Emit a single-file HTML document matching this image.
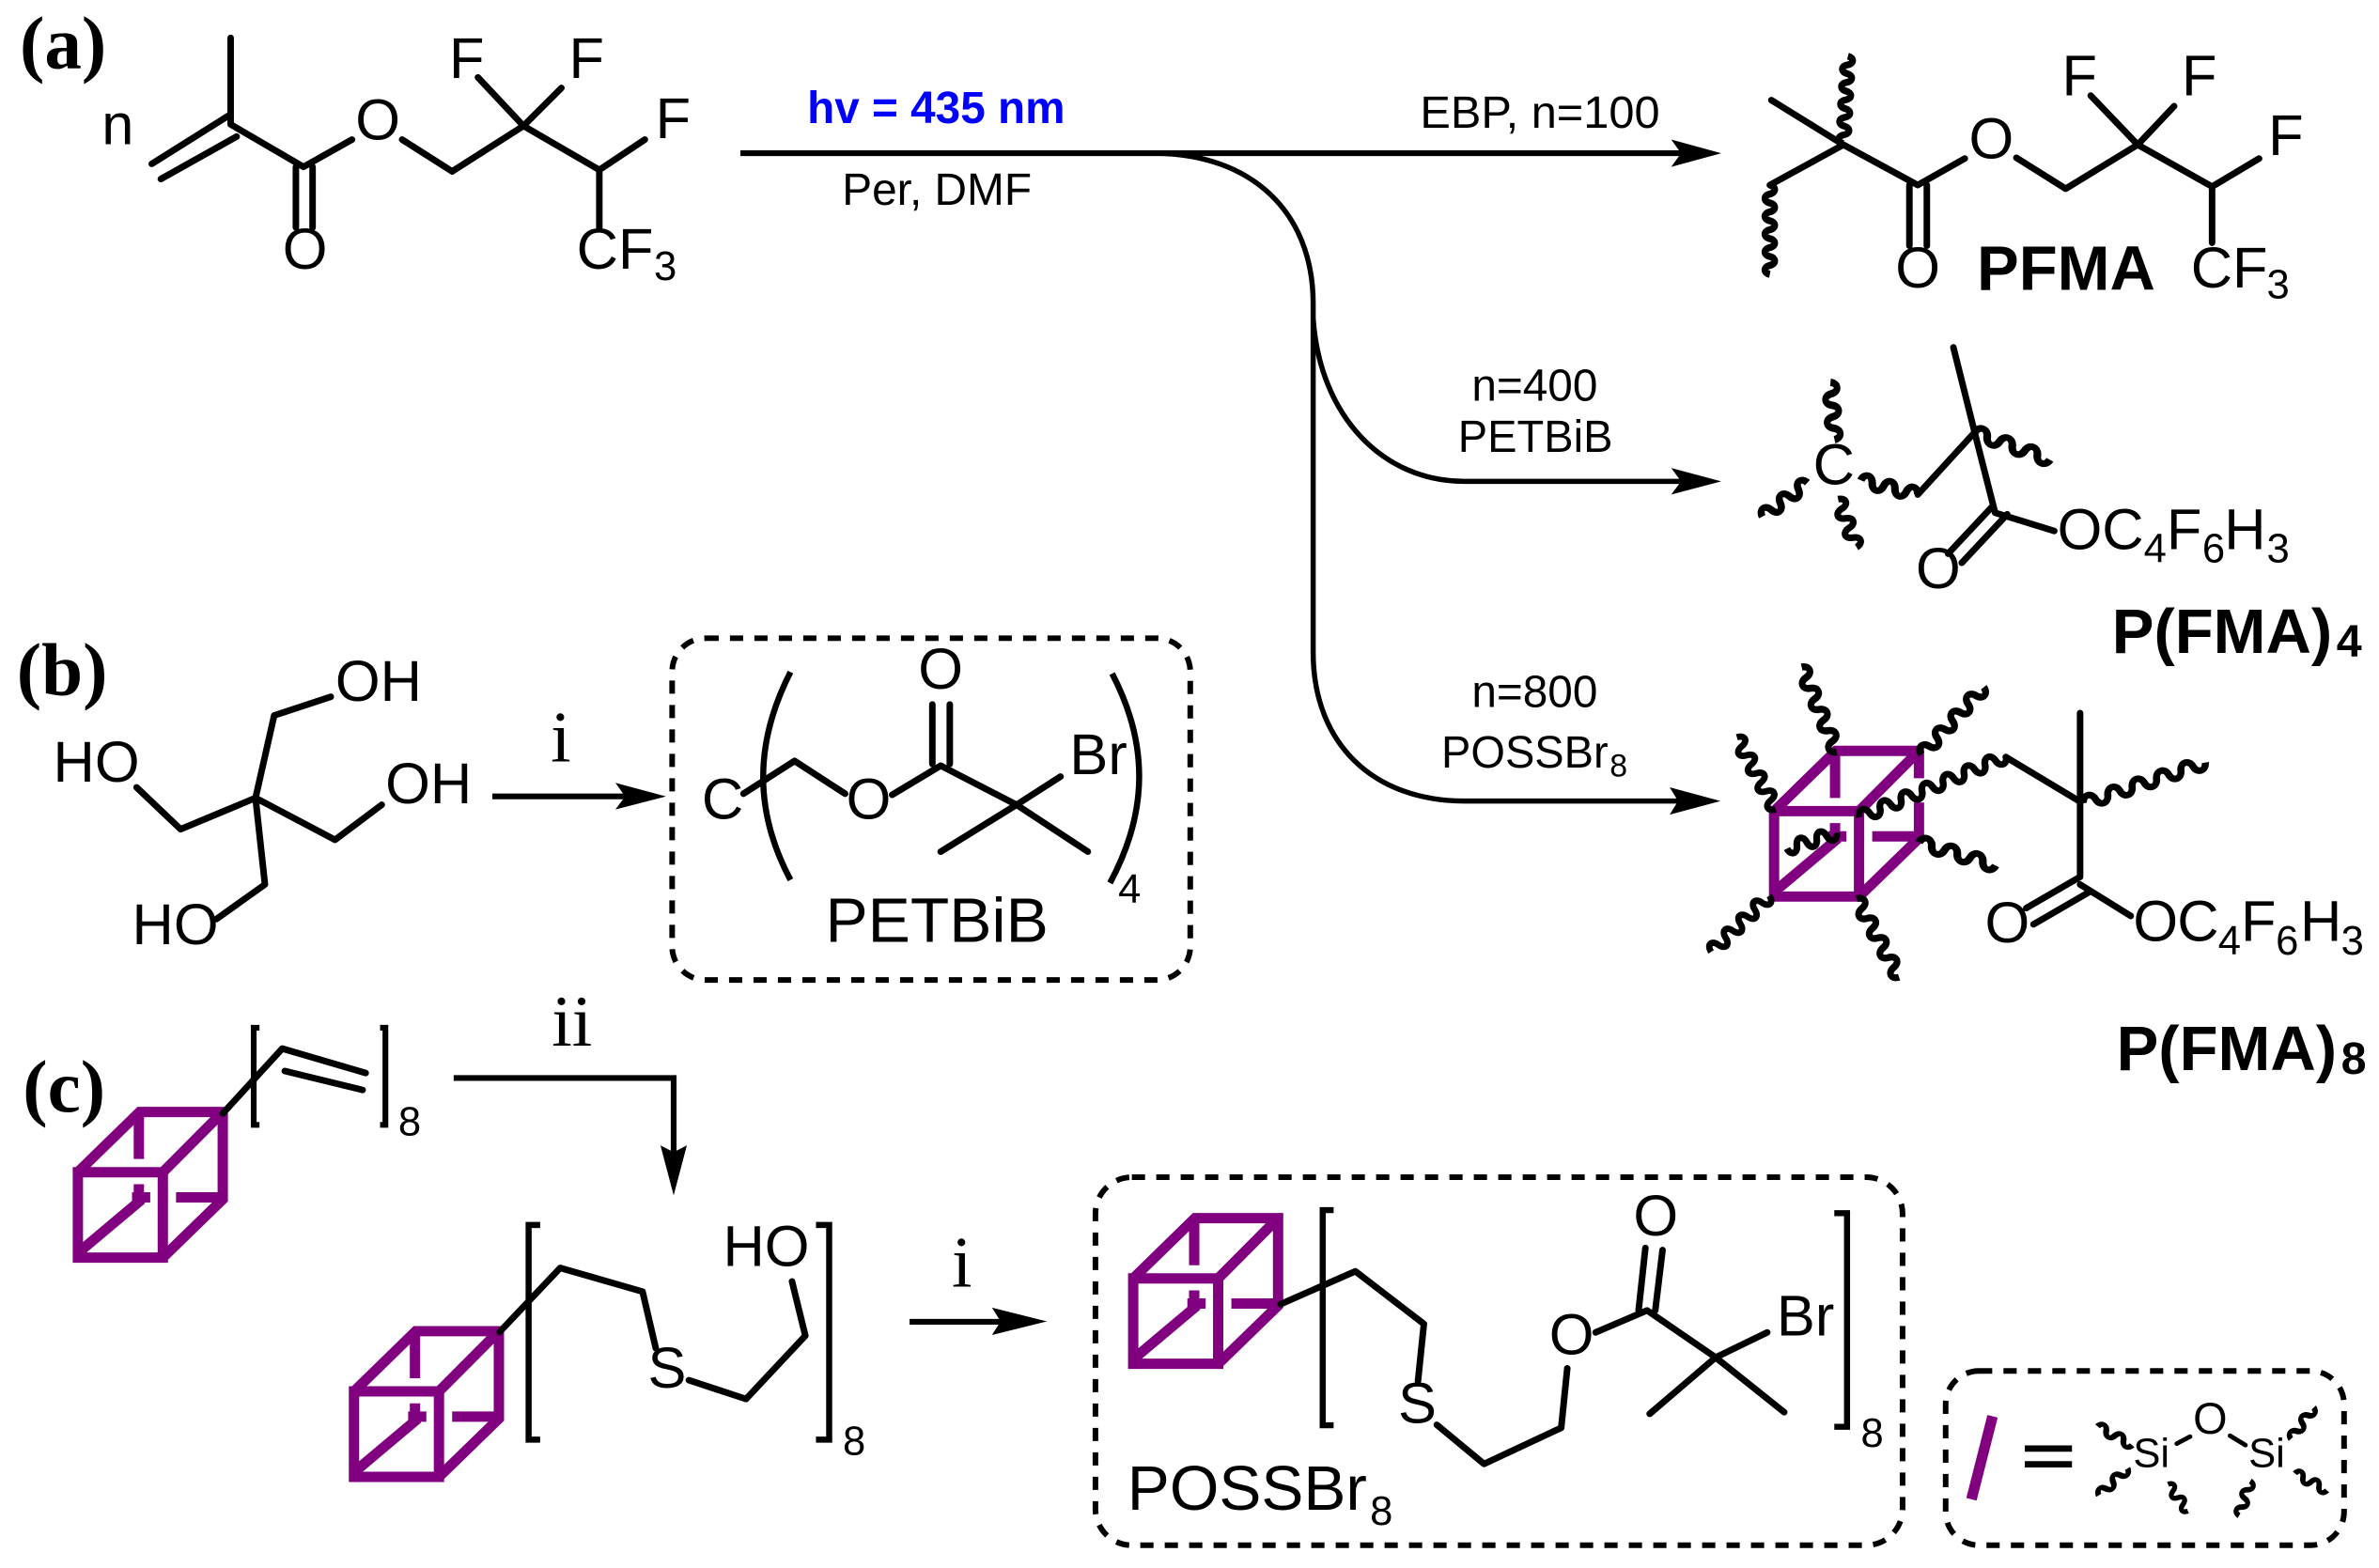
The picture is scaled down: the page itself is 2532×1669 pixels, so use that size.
<!DOCTYPE html>
<html><head><meta charset="utf-8"><title>Scheme</title>
<style>
html,body{margin:0;padding:0;background:#fff}
svg{display:block}
text{font-family:"Liberation Sans",sans-serif;font-size:38px;fill:#000}
.s{font-size:27px}
.c{font-size:30px}
.b{font-weight:bold;font-size:41.5px}
.p{font-size:41.5px}
.t{font-family:"Liberation Serif",serif;font-weight:bold;font-size:49px}
.r{font-family:"Liberation Serif",serif;font-size:48px}
.m{text-anchor:middle}
.bond{fill:none;stroke:#000;stroke-width:4.3;stroke-linejoin:round;stroke-linecap:round}
.ar{fill:none;stroke:#000;stroke-width:3.8}
.box{fill:none;stroke:#000;stroke-width:3.7;stroke-dasharray:8.7 7.4}
.w{fill:none;stroke:#000;stroke-width:4.3}
.ws{fill:none;stroke:#000;stroke-width:3.1}
</style></head><body>
<svg xmlns="http://www.w3.org/2000/svg" width="2532" height="1669" viewBox="0 0 1568 1033.6">
<defs>
<path id="wp" d="M0 0c1 -4.4 4.5 -4.4 5.5 0s4.5 4.4 5.5 0s4.5 -4.4 5.5 0s4.5 4.4 5.5 0s4.5 -4.4 5.5 0s4.5 4.4 5.5 0s4.5 -4.4 5.5 0s4.5 4.4 5.5 0s4.5 -4.4 5.5 0s4.5 4.4 5.5 0"/>
<path id="w6" d="M0 0c1 -5.5 5.6 -5.5 6.6 0s5.6 5.5 6.6 0s5.6 -5.5 6.6 0s5.6 5.5 6.6 0s5.6 -5.5 6.6 0"/>
<path id="w8" d="M0 0c1 -5.5 6.33 -5.5 7.33 0s6.33 5.5 7.33 0s6.33 -5.5 7.33 0s6.33 5.5 7.33 0s6.33 -5.5 7.33 0s6.33 5.5 7.33 0"/>
<path id="w10" d="M0 0c1 -5.5 5.875 -5.5 6.875 0s5.875 5.5 6.875 0s5.875 -5.5 6.875 0s5.875 5.5 6.875 0s5.875 -5.5 6.875 0s5.875 5.5 6.875 0s5.875 -5.5 6.875 0s5.875 5.5 6.875 0"/>
<path id="w14" d="M0 0c1 -5.5 6.7 -5.5 7.7 0s6.7 5.5 7.7 0s6.7 -5.5 7.7 0s6.7 5.5 7.7 0s6.7 -5.5 7.7 0s6.7 5.5 7.7 0s6.7 -5.5 7.7 0s6.7 5.5 7.7 0s6.7 -5.5 7.7 0s6.7 5.5 7.7 0"/>
<path id="w18" d="M0 0c1 -5.5 6.07 -5.5 7.07 0s6.07 5.5 7.07 0s6.07 -5.5 7.07 0s6.07 5.5 7.07 0s6.07 -5.5 7.07 0s6.07 5.5 7.07 0s6.07 -5.5 7.07 0s6.07 5.5 7.07 0s6.07 -5.5 7.07 0s6.07 5.5 7.07 0s6.07 -5.5 7.07 0s6.07 5.5 7.07 0s6.07 -5.5 7.07 0s6.07 5.5 7.07 0"/>
<path id="ws" d="M0 0c1 -4 4 -4 5 0s4 4 5 0s4 -4 5 0s4 4 5 0"/>
<g id="cube" fill="none" stroke="#800080" stroke-width="6.8" stroke-linejoin="miter">
<path d="M51.3 772.7H107.3V829H51.3Z"/>
<path d="M51.3 772.7L92 733H146.8V790.6L107.3 829"/>
<path d="M107.3 772.7L146.8 733"/>
<path d="M51.3 826L93.4 790.6"/>
<path d="M91.5 733V764M91.5 780.6V790"/>
<path d="M87 789.3H99M116 789.3H146.8"/>
</g>
</defs>

<!-- (a) monomer -->
<text class="t" x="13" y="45">(a)</text>
<text x="67" y="95">n</text>
<path class="bond" d="M152 25V82L200 110L232 92M265 92L298 113L345 83L395 112L425 92M345 83L315 51M345 83L370 58M395 112V150M151 76L100 108M156 90L106 118M195 110V150M206 110V150"/>
<text class="m" x="201" y="177">O</text>
<text class="m" x="249" y="92">O</text>
<text x="296" y="51.3">F</text>
<text x="375" y="51.3">F</text>
<text x="432" y="91">F</text>
<text x="380" y="177">CF</text>
<text class="s" x="431" y="184.5">3</text>

<text x="532" y="81" style="font-weight:bold;font-size:30px;fill:#0000ff" textLength="170" lengthAdjust="spacingAndGlyphs">hv = 435 nm</text>
<text class="c" x="555" y="135" textLength="125" lengthAdjust="spacingAndGlyphs">Per, DMF</text>
<text class="c" x="936" y="84.3" textLength="158" lengthAdjust="spacingAndGlyphs">EBP, n=100</text>
<text class="c" x="970" y="264" textLength="83" lengthAdjust="spacingAndGlyphs">n=400</text>
<text class="c" x="961" y="298" textLength="102" lengthAdjust="spacingAndGlyphs">PETBiB</text>
<text class="c" x="970" y="466" textLength="83" lengthAdjust="spacingAndGlyphs">n=800</text>
<text class="c" x="950" y="506" textLength="110" lengthAdjust="spacingAndGlyphs">POSSBr</text>
<text x="1061" y="512" style="font-size:21px">8</text>

<!-- main arrows -->
<path class="ar" d="M488 101H1110"/>
<path fill="none" stroke="#000" stroke-width="3.4" d="M760 101C825 101 865.5 140 865.5 200V430C865.5 490 905 528 965 528H1110"/>
<path fill="none" stroke="#000" stroke-width="3.4" d="M865.5 210C870 275 912 317.3 965 317.3H1110"/>
<polygon points="1134.5,101 1101.5,92 1108,101 1101.5,110"/>
<polygon points="1134.5,317.3 1101.5,308.5 1108,317.3 1101.5,326"/>
<polygon points="1134,528 1100.5,519 1106,528 1100.5,537"/>

<!-- PFMA -->
<path class="bond" d="M1167.5 66L1215 95.4L1166.5 122M1215 95.4L1264 122L1295 104.5M1329 104L1361.5 124.4L1409 95.4L1458 123L1489 104.5M1409 95.4L1378 63M1409 95.4L1433 70M1458 123V160M1258.5 122V162M1270 122V162"/>
<use href="#wp" class="w" transform="translate(1218 37) rotate(93) scale(1.05 1)"/>
<use href="#wp" class="w" transform="translate(1166.5 122) rotate(90) scale(1.07 1)"/>
<text class="m" x="1264" y="189.4">O</text>
<text class="m" x="1312.5" y="104.2">O</text>
<text x="1359" y="63">F</text>
<text x="1438" y="63">F</text>
<text x="1495" y="102.3">F</text>
<text x="1444" y="189.4">CF</text>
<text class="s" x="1494" y="196.5">3</text>
<text class="b" x="1303" y="191">PFMA</text>

<!-- P(FMA)4 -->
<path class="bond" d="M1287.5 229L1301.5 285L1315 338L1354 350M1301.5 285L1264 326M1313 334L1284 365M1323 339L1293 371"/>
<use href="#w8" class="w" transform="translate(1301.5 285) rotate(20) scale(1.2 1)"/>
<use href="#w6" class="w" transform="translate(1226.5 316.6) rotate(14) scale(1.17 1)"/>
<use href="#w6" class="w" transform="translate(1206.5 252) rotate(86) scale(1.15 1)"/>
<use href="#w6" class="w" transform="translate(1161.5 340.6) rotate(-37) scale(1.13 1)"/>
<use href="#w6" class="w" transform="translate(1211.5 329) rotate(69) scale(1.03 1)"/>
<text x="1195" y="319.4">C</text>
<text class="m" x="1277.5" y="387.7">O</text>
<text x="1356" y="362">O</text>
<text x="1385.5" y="362">C</text>
<text class="s" x="1413" y="370.5">4</text>
<text x="1428" y="362">F</text>
<text class="s" x="1451.5" y="370.5">6</text>
<text x="1466" y="362">H</text>
<text class="s" x="1494" y="370.5">3</text>
<text class="b" x="1392" y="430.5">P(FMA)</text>
<text x="1540" y="433" style="font-weight:bold;font-size:30px">4</text>

<!-- P(FMA)8 -->
<use href="#cube" transform="translate(1118 -238)"/>
<rect x="1261" y="513" width="8" height="16" fill="#fff"/>
<path class="bond" d="M1322 499L1371 528.4M1371 470V578L1335.5 598.6M1376.5 588.3L1340.3 609.3M1371 583L1404.4 603.8"/>
<use href="#w10" class="w" transform="translate(1187.5 439.7) rotate(67.6) scale(1.1 1)"/>
<use href="#w10" class="w" transform="translate(1144.8 486) rotate(61.7) scale(.98 1)"/>
<use href="#w10" class="w" transform="translate(1307.5 453) rotate(132.7) scale(1.1 1)"/>
<use href="#w18" class="w" transform="translate(1322.2 498.5) rotate(157.4) scale(1.06 1)"/>
<use href="#w6" class="w" transform="translate(1210.5 549) rotate(162.4) scale(1.04 1)"/>
<use href="#w8" class="w" transform="translate(1264.8 555.3) rotate(16.8) scale(1.2 1)"/>
<use href="#w10" class="w" transform="translate(1166.2 590.4) rotate(136) scale(.97 1)"/>
<use href="#w10" class="w" transform="translate(1223.7 592.4) rotate(61.6) scale(1.07 1)"/>
<use href="#w14" class="w" transform="translate(1373.2 529.5) rotate(-18.5) scale(1.1 1)"/>
<text class="m" x="1323" y="621">O</text>
<text x="1406" y="620.3">O</text>
<text x="1435" y="620.3">C</text>
<text class="s" x="1462" y="629.2">4</text>
<text x="1477" y="620.3">F</text>
<text class="s" x="1500" y="629.2">6</text>
<text x="1516" y="620.3">H</text>
<text class="s" x="1543" y="629.2">3</text>
<text class="b" x="1395" y="705.5">P(FMA)</text>
<text x="1543" y="708" style="font-weight:bold;font-size:30px">8</text>

<!-- (b) -->
<text class="t" x="11" y="458">(b)</text>
<path class="bond" d="M218 459.3L180.7 471.6L168.4 526L119 546.6L90 519M168.4 526L220.8 553.6L251.6 530.5M168.4 526L174.6 583L142.7 605.8"/>
<text x="221" y="462">OH</text>
<text x="35" y="515.4">HO</text>
<text x="254" y="529.6">OH</text>
<text x="87" y="622.3">HO</text>
<text class="r m" x="369.6" y="502">i</text>
<path class="ar" d="M324.5 525H415"/>
<polygon points="439,525 405.6,516 412,525 405.6,533.6"/>
<rect class="box" x="443" y="420.7" width="341.5" height="225.3" rx="22"/>
<text x="462.5" y="539.8">C</text>
<path class="bond" d="M490 523.2L523.7 501.6L557 523.2M588 523.9L620 504.7L670 530.5L699 511.9M670 530.5L620 561.4M670 530.5L717 561.4M614.5 464.4V503.6M626 464.4V503.6"/>
<path fill="none" stroke="#000" stroke-width="4" d="M521 443C497 490 497 535 521 580M733 444C757 490 757 535 731.6 582"/>
<text class="m" x="572.5" y="539.8">O</text>
<text class="m" x="620" y="454">O</text>
<text x="705" y="510.4">Br</text>
<text class="s" x="737" y="595">4</text>
<text class="p" x="544" y="620.9" textLength="147" lengthAdjust="spacingAndGlyphs">PETBiB</text>

<!-- (c) -->
<text class="t" x="15" y="733">(c)</text>
<use href="#cube"/>
<path class="bond" d="M146.8 734L186 691.2L241 707.3M187.7 706L239 718.5"/>
<path fill="none" stroke="#000" stroke-width="3.8" d="M171 677.5H167.2V741.5H171M250.5 677.5H254V741.5H250.5"/>
<text class="s" x="262.5" y="748.3">8</text>
<text class="r m" x="377" y="689.2">ii</text>
<path class="ar" d="M299 710.6H444V762"/>
<polygon points="444,788 435.3,755 444,759.5 452.7,755"/>

<use href="#cube" transform="translate(182 144.5)"/>
<path class="bond" d="M329.3 878L369.2 835.8L423.5 851.4L432.2 888.7M454 909.8L491.7 922.2L530.8 880.5L522 844.7"/>
<path fill="none" stroke="#000" stroke-width="4" d="M356 807.5H348.4V949H356M537.8 807.5H546.5V949H537.8"/>
<text x="427" y="914.8">S</text>
<text x="476.5" y="834.5">HO</text>
<text class="s" x="555.5" y="959">8</text>
<text class="r m" x="634" y="848">i</text>
<path class="ar" d="M599.5 871.3H665"/>
<polygon points="690,871 653.8,862 659.5,871 653.8,880"/>

<!-- POSSBr8 box -->
<rect class="box" x="722" y="776" width="532" height="242.6" rx="24"/>
<use href="#cube" transform="translate(695.6 70)"/>
<path class="bond" d="M844 859.7L893.3 838L938.5 872.7L934.6 910.3M947 939.2L978.1 965L1029 941.2L1033 902M1051.7 878.3L1085.6 863.8L1130.8 894.8L1164.8 878.3M1130.8 894.8L1087.3 932M1130.8 894.8L1176 930.9M1080 863.8L1084.5 822.6M1091 863.8L1095.8 824"/>
<path fill="none" stroke="#000" stroke-width="4" d="M879 797.7H871.8V939.5H879M1209 799.7H1217.4V940.5H1209"/>
<text x="921.5" y="938">S</text>
<text class="m" x="1035.8" y="892.7">O</text>
<text class="m" x="1091.3" y="814.3">O</text>
<text x="1171" y="880.4">Br</text>
<text class="s" x="1226.5" y="953.6">8</text>
<text class="p" x="743" y="995.3" textLength="158" lengthAdjust="spacingAndGlyphs">POSSBr</text>
<text class="s" x="903" y="1005.2">8</text>

<!-- legend box -->
<rect class="box" x="1282.4" y="903.7" width="262.6" height="114.9" rx="22"/>
<path fill="none" stroke="#800080" stroke-width="7" d="M1313.3 933.6L1299.4 988.3"/>
<text transform="translate(1332 973) scale(1 .62)" style="font-weight:bold;font-size:62px">=</text>
<text x="1406" y="967" style="font-size:27px">Si</text>
<text x="1482" y="967" style="font-size:27px">Si</text>
<text class="m" x="1456.8" y="945" style="font-size:29px">O</text>
<path fill="none" stroke="#000" stroke-width="3" stroke-linecap="round" d="M1434.7 951.6L1443.5 947M1469.8 946.4L1480 952.6"/>
<use href="#ws" class="ws" transform="translate(1382.5 940.2) rotate(28.6) scale(1.3 1)"/>
<use href="#ws" class="ws" transform="translate(1402.3 968) rotate(137) scale(1.3 1)"/>
<use href="#ws" class="ws" transform="translate(1429 978.4) rotate(53.5) scale(1.1 1)"/>
<use href="#ws" class="ws" transform="translate(1483.2 976.3) rotate(108) scale(1.2 1)"/>
<use href="#ws" class="ws" transform="translate(1525 927.8) rotate(126) scale(1.28 1)"/>
<use href="#ws" class="ws" transform="translate(1512.6 971.2) rotate(28) scale(1.2 1)"/>
</svg>
</body></html>
